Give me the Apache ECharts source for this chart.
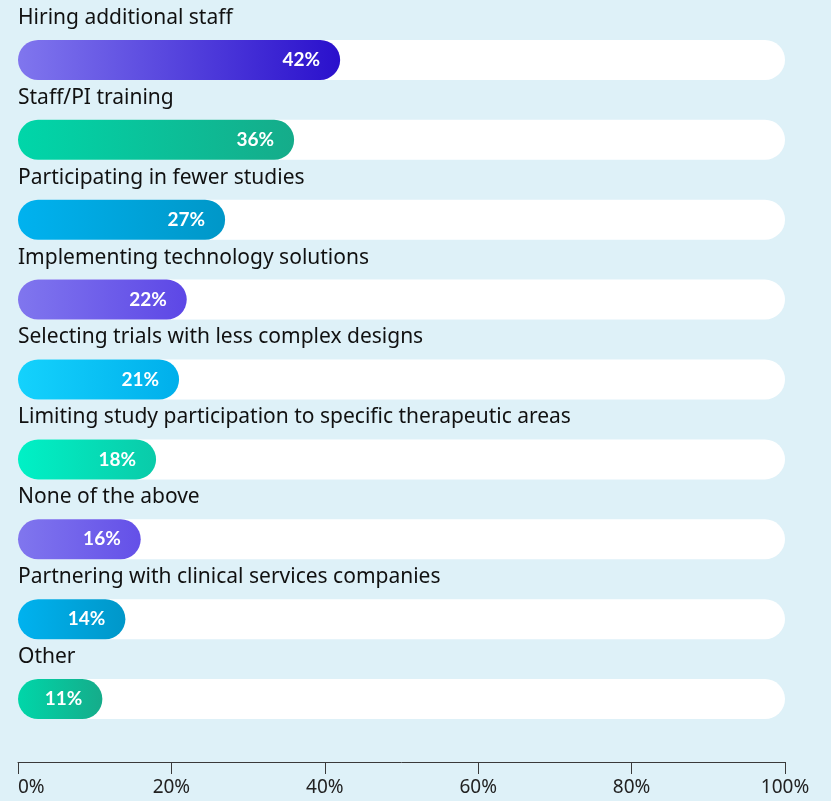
<!DOCTYPE html>
<html>
<head>
<meta charset="utf-8">
<script src="https://cdn.jsdelivr.net/npm/echarts@6/dist/echarts.min.js"></script>
<style>
  html, body { margin: 0; padding: 0; background: #def1f8; }
  #main { width: 831px; height: 801px; }
</style>
</head>
<body>
<div id="main"></div>
<script>
// data
var categories = [
  'Hiring additional staff',
  'Staff/PI training',
  'Participating in fewer studies',
  'Implementing technology solutions',
  'Selecting trials with less complex designs',
  'Limiting study participation to specific therapeutic areas',
  'None of the above',
  'Partnering with clinical services companies',
  'Other'
];
var values = [42, 36, 27, 22, 21, 18, 16, 14, 11];
var trackMax = 100;

// gradient stops per bar (left, right)
var barColors = [
  ['#8076ee', '#2a10cc'],
  ['#00d6a9', '#15ac8a'],
  ['#00b2ef', '#0097c8'],
  ['#8076ee', '#5d47e6'],
  ['#14d2fd', '#00afeb'],
  ['#00f1c6', '#0acba9'],
  ['#8076ee', '#6450e8'],
  ['#00b2ef', '#0097c9'],
  ['#00d6a9', '#15ac8a']
];

var chart = echarts.init(document.getElementById('main'));

var barData = values.map(function (v, i) {
  return {
    value: v,
    itemStyle: {
      color: new echarts.graphic.LinearGradient(0, 0, 1, 0, [
        { offset: 0, color: barColors[i][0] },
        { offset: 1, color: barColors[i][1] }
      ])
    }
  };
});

var option = {
  backgroundColor: '#def1f8',
  textStyle: { fontFamily: 'Noto Sans' },
  grid: { left: 18, right: 46, top: 20, bottom: 62 },
  xAxis: {
    type: 'value',
    min: 0,
    max: 100,
    interval: 20,
    offset: 23,
    splitLine: { show: false },
    axisLine: { show: true, lineStyle: { color: '#3a3a3a', width: 1 } },
    axisTick: { show: true, length: 12, lineStyle: { color: '#3a3a3a' } },
    axisLabel: {
      formatter: '{value}%',
      color: '#222',
      fontSize: 19,
      fontFamily: 'Noto Sans',
      margin: 16,
      alignMinLabel: 'left',
      alignMaxLabel: 'center'
    }
  },
  yAxis: {
    type: 'category',
    data: categories,
    inverse: true,
    axisLine: { show: false },
    axisTick: { show: false },
    axisLabel: { show: false }
  },
  series: [
    {
      type: 'bar',
      data: categories.map(function () { return trackMax; }),
      barWidth: 40,
      barGap: '-100%',
      silent: true,
      z: 1,
      itemStyle: { color: '#ffffff', borderRadius: 20 },
      label: {
        show: true,
        formatter: '{b}',
        position: [0, -22],
        verticalAlign: 'middle',
        align: 'left',
        color: '#111',
        fontSize: 21,
        fontFamily: 'Noto Sans'
      }
    },
    {
      type: 'bar',
      data: barData,
      barWidth: 40,
      barGap: '-100%',
      z: 2,
      itemStyle: { borderRadius: 20 },
      label: {
        show: true,
        position: 'insideRight',
        distance: 20,
        formatter: '{c}%',
        color: '#ffffff',
        fontSize: 19,
        fontWeight: 'bold',
        fontFamily: 'Lato'
      }
    }
  ]
};

chart.setOption(option);
</script>
</body>
</html>
